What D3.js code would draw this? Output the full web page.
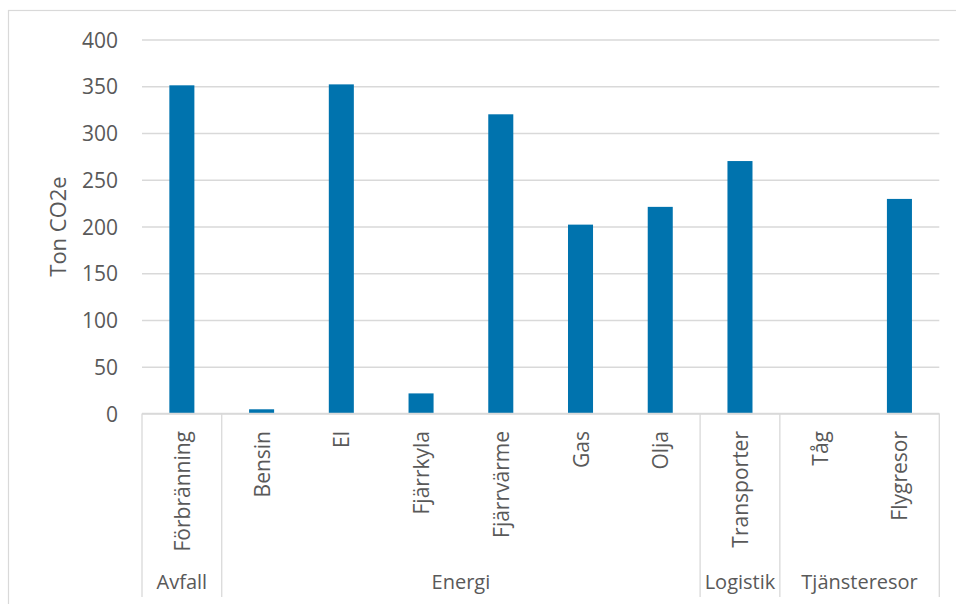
<!DOCTYPE html>
<html>
<head>
<meta charset="utf-8">
<script src="https://cdn.jsdelivr.net/npm/d3@7"></script>
<style>
  html, body { margin: 0; padding: 0; background: #fff; }
  svg { display: block; }
  text { font-family: "Open Sans", sans-serif; fill: #595959; }
</style>
</head>
<body>
<svg id="chart" width="956" height="604"></svg>
<script>
const categories = ["Förbränning", "Bensin", "El", "Fjärrkyla", "Fjärrvärme", "Gas", "Olja", "Transporter", "Tåg", "Flygresor"];
const groupOf = ["Avfall", "Energi", "Energi", "Energi", "Energi", "Energi", "Energi", "Logistik", "Tjänsteresor", "Tjänsteresor"];
const groups = ["Avfall", "Energi", "Logistik", "Tjänsteresor"];
const values = [351, 4.5, 352, 21.5, 320, 202, 221, 270, 0, 229.5];
const yTicks = [0, 50, 100, 150, 200, 250, 300, 350, 400];
const yTitle = "Ton CO2e";

const svg = d3.select("#chart");
const W = 956, H = 604;
const plot = { left: 142, right: 939.3, top: 39.5, bottom: 413.5 };
const barColor = "#0073ae";
const gridColor = "#d9d9d9";

// outer chart border
svg.append("rect")
  .attr("x", 8.5).attr("y", 10.5)
  .attr("width", 1000).attr("height", 1000)
  .attr("fill", "none").attr("stroke", gridColor).attr("stroke-width", 1.2);

const y = d3.scaleLinear().domain([0, 400]).range([plot.bottom, plot.top]);
const slot = d3.scaleBand().domain(categories).range([plot.left, plot.right]).padding(0);
const x = d3.scaleBand().domain(categories).range([plot.left, plot.right])
  .paddingInner(0.686).paddingOuter(0.343);

// gridlines + tick labels
const yAxis = d3.axisLeft(y).tickValues(yTicks)
  .tickSize(-(plot.right - plot.left)).tickPadding(24)
  .tickFormat(d3.format("d"));
const gy = svg.append("g").attr("transform", `translate(${plot.left},0)`).call(yAxis);
gy.select(".domain").remove();
gy.selectAll(".tick line").attr("stroke", gridColor).attr("stroke-width", 1.3);
gy.selectAll(".tick text")
  .style("font-size", "21px").attr("fill", "#595959").attr("dy", "0.36em");

// y title
svg.append("text")
  .attr("transform", `translate(66,${(plot.top + plot.bottom) / 2 + 0}) rotate(-90)`)
  .attr("text-anchor", "middle")
  .style("font-size", "22px")
  .text(yTitle);

// bars
svg.append("g").selectAll("rect")
  .data(categories.map((c, i) => ({ c, v: values[i] })))
  .join("rect")
  .attr("x", d => x(d.c))
  .attr("width", x.bandwidth())
  .attr("y", d => y(d.v))
  .attr("height", d => y(0) - y(d.v))
  .attr("fill", barColor);

// category axis line
svg.append("line")
  .attr("x1", plot.left).attr("x2", plot.right)
  .attr("y1", plot.bottom).attr("y2", plot.bottom)
  .attr("stroke", gridColor).attr("stroke-width", 1.5);

// group separators
const groupSpans = groups.map(g => {
  const idx = groupOf.map((gg, i) => gg === g ? i : -1).filter(i => i >= 0);
  const x0 = slot(categories[idx[0]]);
  const x1 = slot(categories[idx[idx.length - 1]]) + slot.bandwidth();
  return { g, x0, x1 };
});
const seps = [groupSpans[0].x0, ...groupSpans.map(s => s.x1)];
svg.append("g").selectAll("line")
  .data(seps).join("line")
  .attr("x1", d => d).attr("x2", d => d)
  .attr("y1", plot.bottom).attr("y2", 597)
  .attr("stroke", gridColor).attr("stroke-width", 1.3);

// level-1 labels (rotated)
svg.append("g").selectAll("text")
  .data(categories).join("text")
  .attr("transform", d => `translate(${slot(d) + slot.bandwidth() / 2 + 8},431) rotate(-90)`)
  .attr("text-anchor", "end")
  .style("font-size", "21px")
  .text(d => d);

// level-2 group labels
svg.append("g").selectAll("text")
  .data(groupSpans).join("text")
  .attr("x", d => (d.x0 + d.x1) / 2)
  .attr("y", 589)
  .attr("text-anchor", "middle")
  .style("font-size", "20px")
  .text(d => d.g);
</script>
</body>
</html>
